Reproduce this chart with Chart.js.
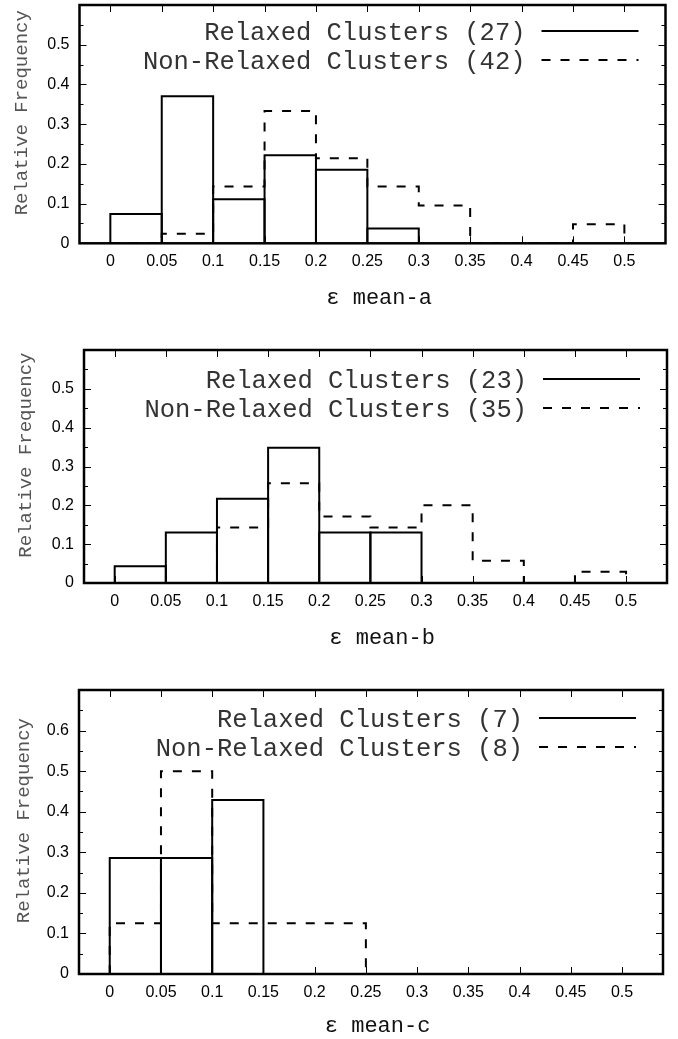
<!DOCTYPE html>
<html>
<head>
<meta charset="utf-8">
<script src="https://cdn.jsdelivr.net/npm/chart.js@4.4.0/dist/chart.umd.min.js"></script>
<style>
html,body{margin:0;padding:0;background:#fff;}
.p{position:absolute;left:0;width:678px;}
canvas{display:block;}
</style>
</head>
<body>
<div class="p" style="top:0px;height:322px"><canvas id="c1" width="678" height="322"></canvas></div>
<div class="p" style="top:340px;height:322px"><canvas id="c2" width="678" height="322"></canvas></div>
<div class="p" style="top:680px;height:359px"><canvas id="c3" width="678" height="359"></canvas></div>
<script>
// ---------- data ----------
const binEdges = [0, 0.05, 0.1, 0.15, 0.2, 0.25, 0.3, 0.35, 0.4, 0.45, 0.5];
const xTickValues = [0, 0.05, 0.1, 0.15, 0.2, 0.25, 0.3, 0.35, 0.4, 0.45, 0.5];
const xTickLabels = ['0', '0.05', '0.1', '0.15', '0.2', '0.25', '0.3', '0.35', '0.4', '0.45', '0.5'];
const yTickValuesAB = [0, 0.1, 0.2, 0.3, 0.4, 0.5];
const yTickLabelsAB = ['0', '0.1', '0.2', '0.3', '0.4', '0.5'];
const yMinorAB = [0.05, 0.15, 0.25, 0.35, 0.45, 0.55];
const yTickValuesC = [0, 0.1, 0.2, 0.3, 0.4, 0.5, 0.6];
const yTickLabelsC = ['0', '0.1', '0.2', '0.3', '0.4', '0.5', '0.6'];
const yMinorC = [0.05, 0.15, 0.25, 0.35, 0.45, 0.55, 0.65];

const relaxedA    = [0.074, 0.370, 0.111, 0.222, 0.185, 0.037, 0, 0, 0, 0];
const nonRelaxedA = [0, 0.024, 0.143, 0.333, 0.214, 0.143, 0.095, 0, 0, 0.048];
const relaxedB    = [0.043, 0.130, 0.217, 0.348, 0.130, 0.130, 0, 0, 0, 0];
const nonRelaxedB = [0, 0, 0.143, 0.257, 0.171, 0.143, 0.200, 0.057, 0, 0.029];
const relaxedC    = [0.286, 0.286, 0.429, 0, 0, 0, 0, 0, 0, 0];
const nonRelaxedC = [0.125, 0.5, 0.125, 0.125, 0.125, 0, 0, 0, 0, 0];

const legendLabelsA = ['Relaxed Clusters (27)', 'Non-Relaxed Clusters (42)'];
const legendLabelsB = ['Relaxed Clusters (23)', 'Non-Relaxed Clusters (35)'];
const legendLabelsC = ['Relaxed Clusters (7)', 'Non-Relaxed Clusters (8)'];
const xTitles = [' ε mean-a', ' ε mean-b', ' ε mean-c'];
const yTitle = '  Relative Frequency';

// ---------- styling ----------
const DASH = [9, 10];
const MONO = '"Liberation Mono", "DejaVu Sans Mono", monospace';
const SANS = '"Liberation Sans", Arial, sans-serif';

const gnuplotLook = {
  id: 'gnuplotLook',
  afterDatasetsDraw(chart) {
    const ctx = chart.ctx;
    const meta = chart.getDatasetMeta(0);
    ctx.save();
    ctx.strokeStyle = '#000';
    ctx.lineWidth = 2;
    ctx.lineJoin = 'miter';
    ctx.setLineDash([]);
    meta.data.forEach((bar) => {
      const p = bar.getProps(['x', 'y', 'base', 'width'], true);
      if (Math.abs(p.base - p.y) < 0.5) return;
      const l = p.x - p.width / 2, r = p.x + p.width / 2;
      ctx.beginPath();
      ctx.moveTo(l, p.base);
      ctx.lineTo(l, p.y);
      ctx.lineTo(r, p.y);
      ctx.lineTo(r, p.base);
      ctx.stroke();
    });
    ctx.restore();
  },
  afterDraw(chart, args, opts) {
    const ctx = chart.ctx;
    const ca = chart.chartArea;
    const xs = chart.scales.x, ys = chart.scales.y;
    ctx.save();
    ctx.strokeStyle = '#000';
    ctx.setLineDash([]);
    // inward ticks
    ctx.lineWidth = 1;
    ctx.beginPath();
    xTickValues.forEach(v => {
      const px = Math.round(xs.getPixelForValue(v)) + 0.5;
      ctx.moveTo(px, ca.bottom); ctx.lineTo(px, ca.bottom - 7);
      ctx.moveTo(px, ca.top); ctx.lineTo(px, ca.top + 7);
    });
    opts.yMajor.forEach(v => {
      const py = Math.round(ys.getPixelForValue(v)) + 0.5;
      ctx.moveTo(ca.left, py); ctx.lineTo(ca.left + 7, py);
      ctx.moveTo(ca.right, py); ctx.lineTo(ca.right - 7, py);
    });
    opts.yMinor.forEach(v => {
      const py = Math.round(ys.getPixelForValue(v)) + 0.5;
      ctx.moveTo(ca.left, py); ctx.lineTo(ca.left + 4, py);
      ctx.moveTo(ca.right, py); ctx.lineTo(ca.right - 4, py);
    });
    ctx.stroke();
    // frame
    ctx.lineWidth = 2.5;
    ctx.strokeRect(ca.left, ca.top, ca.right - ca.left, ca.bottom - ca.top);
    // legend (labels taken from the datasets)
    const ds = chart.data.datasets;
    const rows = [{ text: ds[0].label, dash: [] }, { text: ds[1].label, dash: DASH }];
    ctx.font = '25.5px ' + MONO;
    ctx.textAlign = 'right';
    ctx.textBaseline = 'middle';
    ctx.fillStyle = '#333';
    ctx.lineWidth = 2;
    rows.forEach((r, k) => {
      const y = ca.top + opts.legendTop + k * 29;
      ctx.fillText(r.text, ca.right - 140, y + 2);
      ctx.beginPath();
      ctx.setLineDash(r.dash);
      ctx.moveTo(ca.right - 124, y);
      ctx.lineTo(ca.right - 27, y);
      ctx.stroke();
    });
    ctx.restore();
  }
};

function makePanel(id, cfg) {
  const barData = cfg.relaxed.map((v, i) => ({ x: (binEdges[i] + binEdges[i + 1]) / 2, y: v }));
  const stepData = [{ x: binEdges[0], y: 0 }]
    .concat(cfg.nonRelaxed.map((v, i) => ({ x: binEdges[i + 1], y: v })))
    .concat([{ x: binEdges[binEdges.length - 1], y: 0 }]);
  const canvas = document.getElementById(id);
  const H = canvas.height;
  return new Chart(canvas, {
    type: 'bar',
    data: {
      datasets: [
        {
          type: 'bar', label: cfg.labels[0], data: barData,
          backgroundColor: 'rgba(0,0,0,0)', borderWidth: 0,
          grouped: false, barPercentage: 1, categoryPercentage: 1, order: 1
        },
        {
          type: 'line', label: cfg.labels[1], data: stepData,
          stepped: 'after', borderColor: '#000', borderWidth: 2, borderDash: DASH,
          pointRadius: 0, fill: false, tension: 0, order: 2
        }
      ]
    },
    options: {
      responsive: false,
      animation: false,
      devicePixelRatio: 1,
      events: [],
      layout: { padding: { left: 0, top: cfg.top, right: cfg.right, bottom: 0 } },
      plugins: {
        legend: { display: false },
        tooltip: { enabled: false },
        gnuplotLook: { yMajor: cfg.yTicks, yMinor: cfg.yMinor, legendTop: cfg.legendTop }
      },
      scales: {
        x: {
          type: 'linear', position: 'bottom', min: -0.03, max: 0.54, offset: false,
          grid: { display: false, drawTicks: false },
          border: { display: false },
          afterBuildTicks: (s) => { s.ticks = xTickValues.map(v => ({ value: v })); },
          afterFit: (s) => { s.height = H - cfg.bottom; s.paddingLeft = 0; s.paddingRight = 0; },
          ticks: {
            autoSkip: false, maxRotation: 0, padding: 9, color: '#000',
            font: { family: SANS, size: 16 },
            callback: (v, i) => xTickLabels[i]
          },
          title: {
            display: true, text: cfg.xTitle, color: '#111',
            font: { family: MONO, size: 22 },
            padding: { top: 0, bottom: cfg.titlePad }
          }
        },
        y: {
          type: 'linear', position: 'left', min: 0, max: cfg.yMax,
          grid: { display: false, drawTicks: false },
          border: { display: false },
          afterBuildTicks: (s) => { s.ticks = cfg.yTicks.map(v => ({ value: v })); },
          afterFit: (s) => { s.width = cfg.left; s.paddingTop = 0; s.paddingBottom = 0; },
          ticks: {
            padding: 10, color: '#000',
            font: { family: SANS, size: 16 },
            callback: (v, i) => cfg.yLabels[i]
          },
          title: {
            display: true, text: yTitle, color: '#555',
            font: { family: MONO, size: 19 },
            padding: { top: cfg.yTitlePad, bottom: 0 }
          }
        }
      }
    },
    plugins: [gnuplotLook]
  });
}

makePanel('c1', {
  relaxed: relaxedA, nonRelaxed: nonRelaxedA, labels: legendLabelsA, xTitle: xTitles[0],
  yTicks: yTickValuesAB, yLabels: yTickLabelsAB, yMinor: yMinorAB, yMax: 0.6,
  top: 5, right: 12.5, left: 79.5, bottom: 243.3, titlePad: 11, yTitlePad: 11, legendTop: 26
});
makePanel('c2', {
  relaxed: relaxedB, nonRelaxed: nonRelaxedB, labels: legendLabelsB, xTitle: xTitles[1],
  yTicks: yTickValuesAB, yLabels: yTickLabelsAB, yMinor: yMinorAB, yMax: 0.6,
  top: 10, right: 11, left: 84, bottom: 243, titlePad: 11, yTitlePad: 15, legendTop: 29
});
makePanel('c3', {
  relaxed: relaxedC, nonRelaxed: nonRelaxedC, labels: legendLabelsC, xTitle: xTitles[2],
  yTicks: yTickValuesC, yLabels: yTickLabelsC, yMinor: yMinorC, yMax: 0.7,
  top: 10, right: 15, left: 79, bottom: 294, titlePad: 0, yTitlePad: 13, legendTop: 28
});
</script>
</body>
</html>
